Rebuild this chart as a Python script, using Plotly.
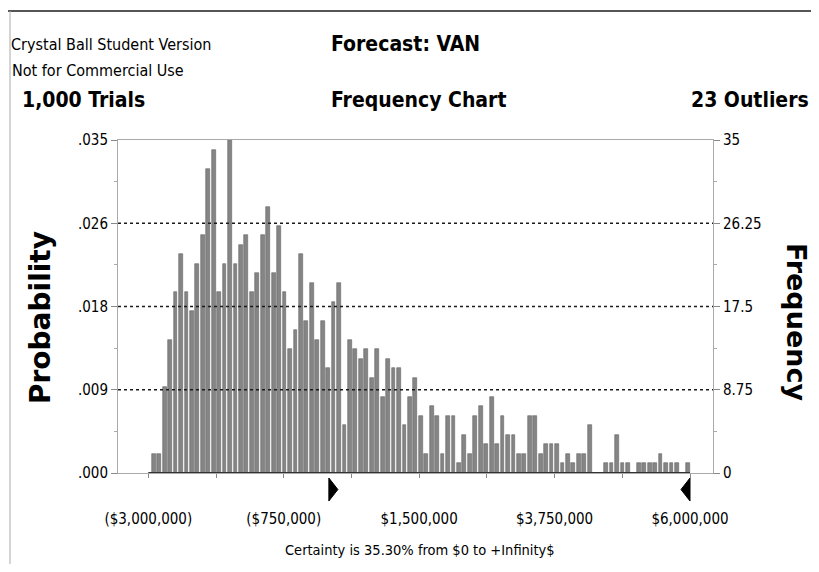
import plotly.graph_objects as go

# ---------------- data ----------------
frequency = [2, 2, 9, 14, 19, 23, 19, 17, 22, 25, 32, 34, 19, 22, 35, 22, 24, 25, 19, 21, 25, 28, 21, 26,
             19, 13, 15, 23, 16, 20, 14, 16, 11, 18, 20, 5, 14, 13, 12, 13, 10, 13, 8, 12, 11, 11, 5, 8,
             10, 6, 2, 7, 6, 2, 6, 6, 1, 4, 2, 6, 7, 3, 8, 3, 6, 4, 4, 2, 2, 6, 6, 2, 3,
             3, 3, 1, 2, 1, 2, 2, 5, 0, 0, 1, 1, 4, 1, 1, 0, 1, 1, 1, 1, 2, 1, 1, 1, 0, 1]
first_bin_center = -2_910_000
bin_width = 90_550
bin_centers = [first_bin_center + i * bin_width for i in range(len(frequency))]

trials = 1000
x_tick_values = [-3_000_000, -1_875_000, -750_000, 375_000, 1_500_000, 2_625_000, 3_750_000, 4_875_000, 6_000_000]
x_tick_labels = ["($3,000,000)", "", "($750,000)", "", "$1,500,000", "", "$3,750,000", "", "$6,000,000"]
freq_ticks = [0, 8.75, 17.5, 26.25, 35]
freq_tick_labels = ["0", "8.75", "17.5", "26.25", "35"]
prob_tick_labels = [".000", ".009", ".018", ".026", ".035"]
certainty_low = 0
certainty_high = 6_000_000

# ---------------- layout helpers ----------------
# the page body has an 8px margin, so the figure is drawn 8px in from the window corner
OFF = 8
W, H = 819 - 2 * OFF, 572 - 2 * OFF
FL, FR, FT, FB = 118, 713, 140, 473
L, R, T, B = FL - OFF, FR - OFF, FT - OFF, FB - OFF

def px_x(px):  # window px -> paper
    return (px - FL) / (FR - FL)
def px_y(py):
    return (FB - py) / (FB - FT)

px_per_unit = (690 - 148.3) / 9_000_000
x_min = -3_000_000 - (148.3 - FL) / px_per_unit
x_max = 6_000_000 + (FR - 690) / px_per_unit

NARROW = "Liberation Sans Narrow, DejaVu Sans Condensed, Liberation Sans, Arial, sans-serif"
HEAVY = "DejaVu Sans, Verdana, sans-serif"

fig = go.Figure()
fig.add_trace(go.Bar(
    x=bin_centers, y=frequency, width=bin_width * 0.70,
    marker=dict(color="#858585", line=dict(color="#666666", width=0.6)),
    yaxis="y", hoverinfo="skip", showlegend=False,
))
fig.add_trace(go.Scatter(
    x=[x_tick_values[0], x_tick_values[-1]], y=[0, 0], yaxis="y2",
    mode="lines", line=dict(color="#333333", width=2),
    hoverinfo="skip", showlegend=False, cliponaxis=False,
))

shapes = []
for v in freq_ticks[1:-1]:
    shapes.append(dict(type="line", xref="paper", x0=0, x1=1, yref="y", y0=v, y1=v,
                       line=dict(color="#1a1a1a", width=1.5, dash="dot"), layer="above"))
tw = 9 / px_per_unit
ty0, ty1 = px_y(478), px_y(501)
tym = (ty0 + ty1) / 2
shapes.append(dict(type="path", xref="x", yref="paper",
                   path=f"M {certainty_low},{ty0} L {certainty_low + tw},{tym} L {certainty_low},{ty1} Z",
                   fillcolor="black", line=dict(color="black", width=1)))
shapes.append(dict(type="path", xref="x", yref="paper",
                   path=f"M {certainty_high},{ty0} L {certainty_high - tw},{tym} L {certainty_high},{ty1} Z",
                   fillcolor="black", line=dict(color="black", width=1)))
shapes.append(dict(type="line", xref="paper", yref="paper", x0=px_x(OFF), x1=px_x(819), y0=px_y(11), y1=px_y(11),
                   line=dict(color="#555555", width=2)))
shapes.append(dict(type="line", xref="paper", yref="paper", x0=px_x(10), x1=px_x(10), y0=px_y(11), y1=px_y(572),
                   line=dict(color="#aaaaaa", width=1)))

def ann(text, x, y, size, xanchor="left", bold=False, family=NARROW, angle=0):
    return dict(text=f"<b>{text}</b>" if bold else text, x=px_x(x), y=px_y(y), xref="paper", yref="paper",
                xanchor=xanchor, yanchor="middle", showarrow=False, textangle=angle,
                font=dict(family=family, size=size, color="black"))

annotations = [
    ann("Crystal Ball Student Version", 9, 44, 16),
    ann("Not for Commercial Use", 10, 71, 16),
    ann(f"{trials:,} Trials", 20, 100, 21, bold=True),
    ann("Forecast: VAN", 329, 44, 21, bold=True),
    ann("Frequency Chart", 329, 100, 21, bold=True),
    ann("23 Outliers", 811, 100, 21, xanchor="right", bold=True),
    ann("Certainty is 35.30% from $0 to +Infinity$", 420, 550, 14.5, xanchor="center"),
    ann("Probability", 40, 318, 28, xanchor="center", bold=True, family=HEAVY, angle=-90),
    ann("Frequency", 797, 322, 27, xanchor="center", bold=True, family=HEAVY, angle=90),
]

minor_freq = [(a + b) / 2 for a, b in zip(freq_ticks[:-1], freq_ticks[1:])]

fig.update_layout(
    width=W, height=H,
    margin=dict(l=L, r=W - R, t=T, b=H - B, pad=0, autoexpand=False),
    paper_bgcolor="white", plot_bgcolor="white",
    bargap=0,
    shapes=shapes, annotations=annotations,
    xaxis=dict(range=[x_min, x_max], tickmode="array", tickvals=x_tick_values, ticktext=x_tick_labels,
               ticks="outside", ticklen=4, tickcolor="#888888", showgrid=False, zeroline=False,
               showline=True, linecolor="#aaaaaa", linewidth=1, mirror=True, automargin=False,
               tickfont=dict(family=NARROW, size=15, color="black"), ticklabelstandoff=28),
    yaxis=dict(range=[0, 35], side="right", tickmode="array", tickvals=freq_ticks, ticktext=freq_tick_labels,
               ticks="outside", ticklen=6, tickcolor="#888888", showgrid=False, zeroline=False,
               showline=True, linecolor="#aaaaaa", linewidth=1, automargin=False,
               minor=dict(tickvals=minor_freq, ticks="outside", ticklen=3, tickcolor="#aaaaaa"),
               tickfont=dict(family=NARROW, size=15, color="black"), ticklabelstandoff=0),
    yaxis2=dict(range=[0, 35 / trials], overlaying="y", side="left", tickmode="array",
                tickvals=[v / trials for v in freq_ticks], ticktext=prob_tick_labels,
                ticks="outside", ticklen=6, tickcolor="#888888", showgrid=False, zeroline=False,
                showline=True, linecolor="#aaaaaa", linewidth=1, automargin=False,
                minor=dict(tickvals=[v / trials for v in minor_freq], ticks="outside", ticklen=3, tickcolor="#aaaaaa"),
                tickfont=dict(family=NARROW, size=15, color="black"), ticklabelstandoff=0),
)

fig.write_html("out.html")
